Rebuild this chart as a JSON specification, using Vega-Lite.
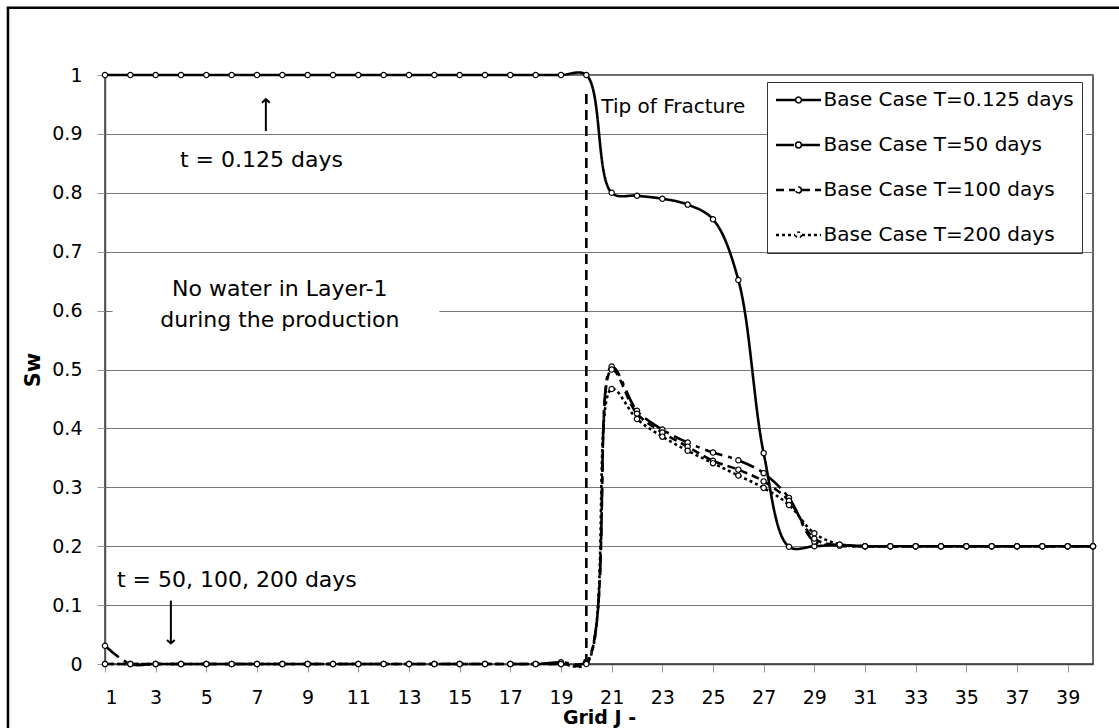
{
  "$schema": "https://vega.github.io/schema/vega-lite/v6.json",
  "width": 988,
  "height": 589,
  "autosize": {"type": "none"},
  "padding": {"left": 105, "top": 75, "right": 26, "bottom": 64},
  "background": "white",
  "config": {
    "font": "DejaVu Sans",
    "view": {"stroke": "#333333", "strokeWidth": 1.5}
  },
  "data": {
    "values": [
      {"x":1,"sw":1,"series":"Base Case T=0.125 days"},{"x":2,"sw":1,"series":"Base Case T=0.125 days"},{"x":3,"sw":1,"series":"Base Case T=0.125 days"},{"x":4,"sw":1,"series":"Base Case T=0.125 days"},{"x":5,"sw":1,"series":"Base Case T=0.125 days"},{"x":6,"sw":1,"series":"Base Case T=0.125 days"},{"x":7,"sw":1,"series":"Base Case T=0.125 days"},{"x":8,"sw":1,"series":"Base Case T=0.125 days"},{"x":9,"sw":1,"series":"Base Case T=0.125 days"},{"x":10,"sw":1,"series":"Base Case T=0.125 days"},{"x":11,"sw":1,"series":"Base Case T=0.125 days"},{"x":12,"sw":1,"series":"Base Case T=0.125 days"},{"x":13,"sw":1,"series":"Base Case T=0.125 days"},{"x":14,"sw":1,"series":"Base Case T=0.125 days"},{"x":15,"sw":1,"series":"Base Case T=0.125 days"},{"x":16,"sw":1,"series":"Base Case T=0.125 days"},{"x":17,"sw":1,"series":"Base Case T=0.125 days"},{"x":18,"sw":1,"series":"Base Case T=0.125 days"},{"x":19,"sw":1,"series":"Base Case T=0.125 days"},{"x":20,"sw":1,"series":"Base Case T=0.125 days"},{"x":21,"sw":0.8,"series":"Base Case T=0.125 days"},{"x":22,"sw":0.795,"series":"Base Case T=0.125 days"},{"x":23,"sw":0.79,"series":"Base Case T=0.125 days"},{"x":24,"sw":0.78,"series":"Base Case T=0.125 days"},{"x":25,"sw":0.755,"series":"Base Case T=0.125 days"},{"x":26,"sw":0.652,"series":"Base Case T=0.125 days"},{"x":27,"sw":0.358,"series":"Base Case T=0.125 days"},{"x":28,"sw":0.199,"series":"Base Case T=0.125 days"},{"x":29,"sw":0.2,"series":"Base Case T=0.125 days"},{"x":30,"sw":0.202,"series":"Base Case T=0.125 days"},{"x":31,"sw":0.2,"series":"Base Case T=0.125 days"},{"x":32,"sw":0.2,"series":"Base Case T=0.125 days"},{"x":33,"sw":0.2,"series":"Base Case T=0.125 days"},{"x":34,"sw":0.2,"series":"Base Case T=0.125 days"},{"x":35,"sw":0.2,"series":"Base Case T=0.125 days"},{"x":36,"sw":0.2,"series":"Base Case T=0.125 days"},{"x":37,"sw":0.2,"series":"Base Case T=0.125 days"},{"x":38,"sw":0.2,"series":"Base Case T=0.125 days"},{"x":39,"sw":0.2,"series":"Base Case T=0.125 days"},{"x":40,"sw":0.2,"series":"Base Case T=0.125 days"},

      {"x":1,"sw":0.031,"series":"Base Case T=50 days"},{"x":2,"sw":0,"series":"Base Case T=50 days"},{"x":3,"sw":0,"series":"Base Case T=50 days"},{"x":4,"sw":0,"series":"Base Case T=50 days"},{"x":5,"sw":0,"series":"Base Case T=50 days"},{"x":6,"sw":0,"series":"Base Case T=50 days"},{"x":7,"sw":0,"series":"Base Case T=50 days"},{"x":8,"sw":0,"series":"Base Case T=50 days"},{"x":9,"sw":0,"series":"Base Case T=50 days"},{"x":10,"sw":0,"series":"Base Case T=50 days"},{"x":11,"sw":0,"series":"Base Case T=50 days"},{"x":12,"sw":0,"series":"Base Case T=50 days"},{"x":13,"sw":0,"series":"Base Case T=50 days"},{"x":14,"sw":0,"series":"Base Case T=50 days"},{"x":15,"sw":0,"series":"Base Case T=50 days"},{"x":16,"sw":0,"series":"Base Case T=50 days"},{"x":17,"sw":0,"series":"Base Case T=50 days"},{"x":18,"sw":0,"series":"Base Case T=50 days"},{"x":19,"sw":0.003,"series":"Base Case T=50 days"},{"x":20,"sw":0.004,"series":"Base Case T=50 days"},{"x":21,"sw":0.505,"series":"Base Case T=50 days"},{"x":22,"sw":0.43,"series":"Base Case T=50 days"},{"x":23,"sw":0.398,"series":"Base Case T=50 days"},{"x":24,"sw":0.376,"series":"Base Case T=50 days"},{"x":25,"sw":0.359,"series":"Base Case T=50 days"},{"x":26,"sw":0.346,"series":"Base Case T=50 days"},{"x":27,"sw":0.324,"series":"Base Case T=50 days"},{"x":28,"sw":0.282,"series":"Base Case T=50 days"},{"x":29,"sw":0.208,"series":"Base Case T=50 days"},{"x":30,"sw":0.202,"series":"Base Case T=50 days"},{"x":31,"sw":0.2,"series":"Base Case T=50 days"},{"x":32,"sw":0.2,"series":"Base Case T=50 days"},{"x":33,"sw":0.2,"series":"Base Case T=50 days"},{"x":34,"sw":0.2,"series":"Base Case T=50 days"},{"x":35,"sw":0.2,"series":"Base Case T=50 days"},{"x":36,"sw":0.2,"series":"Base Case T=50 days"},{"x":37,"sw":0.2,"series":"Base Case T=50 days"},{"x":38,"sw":0.2,"series":"Base Case T=50 days"},{"x":39,"sw":0.2,"series":"Base Case T=50 days"},{"x":40,"sw":0.2,"series":"Base Case T=50 days"},

      {"x":1,"sw":0,"series":"Base Case T=100 days"},{"x":2,"sw":0,"series":"Base Case T=100 days"},{"x":3,"sw":0,"series":"Base Case T=100 days"},{"x":4,"sw":0,"series":"Base Case T=100 days"},{"x":5,"sw":0,"series":"Base Case T=100 days"},{"x":6,"sw":0,"series":"Base Case T=100 days"},{"x":7,"sw":0,"series":"Base Case T=100 days"},{"x":8,"sw":0,"series":"Base Case T=100 days"},{"x":9,"sw":0,"series":"Base Case T=100 days"},{"x":10,"sw":0,"series":"Base Case T=100 days"},{"x":11,"sw":0,"series":"Base Case T=100 days"},{"x":12,"sw":0,"series":"Base Case T=100 days"},{"x":13,"sw":0,"series":"Base Case T=100 days"},{"x":14,"sw":0,"series":"Base Case T=100 days"},{"x":15,"sw":0,"series":"Base Case T=100 days"},{"x":16,"sw":0,"series":"Base Case T=100 days"},{"x":17,"sw":0,"series":"Base Case T=100 days"},{"x":18,"sw":0,"series":"Base Case T=100 days"},{"x":19,"sw":0,"series":"Base Case T=100 days"},{"x":20,"sw":0.002,"series":"Base Case T=100 days"},{"x":21,"sw":0.5,"series":"Base Case T=100 days"},{"x":22,"sw":0.425,"series":"Base Case T=100 days"},{"x":23,"sw":0.393,"series":"Base Case T=100 days"},{"x":24,"sw":0.369,"series":"Base Case T=100 days"},{"x":25,"sw":0.345,"series":"Base Case T=100 days"},{"x":26,"sw":0.33,"series":"Base Case T=100 days"},{"x":27,"sw":0.31,"series":"Base Case T=100 days"},{"x":28,"sw":0.277,"series":"Base Case T=100 days"},{"x":29,"sw":0.213,"series":"Base Case T=100 days"},{"x":30,"sw":0.201,"series":"Base Case T=100 days"},{"x":31,"sw":0.2,"series":"Base Case T=100 days"},{"x":32,"sw":0.2,"series":"Base Case T=100 days"},{"x":33,"sw":0.2,"series":"Base Case T=100 days"},{"x":34,"sw":0.2,"series":"Base Case T=100 days"},{"x":35,"sw":0.2,"series":"Base Case T=100 days"},{"x":36,"sw":0.2,"series":"Base Case T=100 days"},{"x":37,"sw":0.2,"series":"Base Case T=100 days"},{"x":38,"sw":0.2,"series":"Base Case T=100 days"},{"x":39,"sw":0.2,"series":"Base Case T=100 days"},{"x":40,"sw":0.2,"series":"Base Case T=100 days"},

      {"x":1,"sw":0,"series":"Base Case T=200 days"},{"x":2,"sw":0,"series":"Base Case T=200 days"},{"x":3,"sw":0,"series":"Base Case T=200 days"},{"x":4,"sw":0,"series":"Base Case T=200 days"},{"x":5,"sw":0,"series":"Base Case T=200 days"},{"x":6,"sw":0,"series":"Base Case T=200 days"},{"x":7,"sw":0,"series":"Base Case T=200 days"},{"x":8,"sw":0,"series":"Base Case T=200 days"},{"x":9,"sw":0,"series":"Base Case T=200 days"},{"x":10,"sw":0,"series":"Base Case T=200 days"},{"x":11,"sw":0,"series":"Base Case T=200 days"},{"x":12,"sw":0,"series":"Base Case T=200 days"},{"x":13,"sw":0,"series":"Base Case T=200 days"},{"x":14,"sw":0,"series":"Base Case T=200 days"},{"x":15,"sw":0,"series":"Base Case T=200 days"},{"x":16,"sw":0,"series":"Base Case T=200 days"},{"x":17,"sw":0,"series":"Base Case T=200 days"},{"x":18,"sw":0,"series":"Base Case T=200 days"},{"x":19,"sw":0,"series":"Base Case T=200 days"},{"x":20,"sw":0,"series":"Base Case T=200 days"},{"x":21,"sw":0.467,"series":"Base Case T=200 days"},{"x":22,"sw":0.416,"series":"Base Case T=200 days"},{"x":23,"sw":0.386,"series":"Base Case T=200 days"},{"x":24,"sw":0.362,"series":"Base Case T=200 days"},{"x":25,"sw":0.341,"series":"Base Case T=200 days"},{"x":26,"sw":0.32,"series":"Base Case T=200 days"},{"x":27,"sw":0.299,"series":"Base Case T=200 days"},{"x":28,"sw":0.27,"series":"Base Case T=200 days"},{"x":29,"sw":0.222,"series":"Base Case T=200 days"},{"x":30,"sw":0.203,"series":"Base Case T=200 days"},{"x":31,"sw":0.2,"series":"Base Case T=200 days"},{"x":32,"sw":0.2,"series":"Base Case T=200 days"},{"x":33,"sw":0.2,"series":"Base Case T=200 days"},{"x":34,"sw":0.2,"series":"Base Case T=200 days"},{"x":35,"sw":0.2,"series":"Base Case T=200 days"},{"x":36,"sw":0.2,"series":"Base Case T=200 days"},{"x":37,"sw":0.2,"series":"Base Case T=200 days"},{"x":38,"sw":0.2,"series":"Base Case T=200 days"},{"x":39,"sw":0.2,"series":"Base Case T=200 days"},{"x":40,"sw":0.2,"series":"Base Case T=200 days"}
    ]
  },
  "encoding": {
    "x": {
      "field": "x", "type": "quantitative",
      "scale": {"domain": [1, 40], "nice": false, "zero": false},
      "axis": {
        "title": "Grid J -", "titleFont": "DejaVu Sans", "titleFontSize": 19, "titleFontWeight": "bold", "titleColor": "black", "titlePadding": 1,
        "values": [1,3,5,7,9,11,13,15,17,19,21,23,25,27,29,31,33,35,37,39],
        "format": "d", "grid": false,
        "labelFont": "DejaVu Sans", "labelFontSize": 19, "labelColor": "black", "labelPadding": 25, "labelBaseline": "middle",
        "tickSize": 8, "tickColor": "#999999", "domainColor": "#444444", "domainWidth": 1.5
      }
    },
    "y": {
      "field": "sw", "type": "quantitative",
      "scale": {"domain": [0, 1], "nice": false},
      "axis": {
        "title": "Sw", "titleFont": "DejaVu Sans", "titleFontSize": 21, "titleFontWeight": "bold", "titleColor": "black", "titlePadding": 8,
        "values": [0,0.1,0.2,0.3,0.4,0.5,0.6,0.7,0.8,0.9,1],
        "format": "~g", "grid": true, "gridColor": "#777777", "gridWidth": 1,
        "labelFont": "DejaVu Sans", "labelFontSize": 19, "labelColor": "black", "labelPadding": 15,
        "tickSize": 8, "tickColor": "#999999", "domainColor": "#555555", "domainWidth": 1.5
      }
    }
  },
  "layer": [
    {
      "transform": [{"filter": "datum.x == 1 && datum.sw == 1"}],
      "mark": {"type": "rect", "fill": "white", "stroke": null},
      "encoding": {
        "x": {"datum": 1.3}, "x2": {"datum": 14.2},
        "y": {"datum": 0.54}, "y2": {"datum": 0.67}
      }
    },
    {
      "transform": [{"filter": "datum.x == 1 && datum.sw == 1"}],
      "mark": {"type": "rect", "fill": "white", "stroke": null},
      "encoding": {
        "x": {"datum": 27.13}, "x2": {"datum": 39.7},
        "y": {"datum": 0.702}, "y2": {"datum": 0.9881}
      }
    },
    {
      "transform": [{"filter": "datum.x == 1 && datum.sw == 1"}],
      "mark": {"type": "rule", "color": "black", "strokeWidth": 2.5, "clip": false},
      "encoding": {"x": {"datum": -2.83}, "y": {"datum": 1.114}, "y2": {"datum": -0.15}}
    },
    {
      "transform": [{"filter": "datum.x == 1 && datum.sw == 1"}],
      "mark": {"type": "rule", "color": "black", "strokeWidth": 2.5, "clip": false},
      "encoding": {"y": {"datum": 1.114}, "x": {"datum": -2.88}, "x2": {"datum": 45}}
    },
    {
      "transform": [{"filter": "datum.x == 1 && datum.sw == 1"}],
      "mark": {"type": "rule", "color": "black", "strokeWidth": 2.6, "strokeDash": [10, 6]},
      "encoding": {"x": {"datum": 20}, "y": {"datum": 0}, "y2": {"datum": 0.97}}
    },
    {
      "mark": {"type": "line", "color": "black", "strokeWidth": 2.6, "interpolate": "catmull-rom"},
      "encoding": {
        "strokeDash": {
          "field": "series", "type": "nominal",
          "scale": {
            "domain": ["Base Case T=0.125 days", "Base Case T=50 days", "Base Case T=100 days", "Base Case T=200 days"],
            "range": [[1, 0], [18, 6, 4, 6], [8, 5], [3, 3]]
          },
          "legend": {
            "orient": "none", "legendX": 662, "legendY": 7, "title": null,
            "symbolType": "M-8.5,-0.15L-1.3,-0.15M-8.5,0.15L-1.3,0.15M1.3,-0.15L8.5,-0.15M1.3,0.15L8.5,0.15M1.1,0A1.1,1.1,0,1,1,-1.1,0A1.1,1.1,0,1,1,1.1,0",
            "symbolSize": 28, "symbolStrokeWidth": 1.5, "symbolStrokeColor": "black", "symbolFillColor": "white",
            "symbolOffset": 13.5,
            "labelFont": "DejaVu Sans", "labelFontSize": 20, "labelColor": "black", "labelOffset": 15, "labelLimit": 400,
            "rowPadding": 25, "padding": 8, "fillColor": null, "strokeColor": "#333333"
          }
        }
      }
    },
    {
      "mark": {"type": "point", "shape": "circle", "filled": true, "fill": "white", "stroke": "black", "strokeWidth": 1.2, "size": 28, "opacity": 1}
    },
    {
      "transform": [{"filter": "datum.x == 1 && datum.sw == 1"}],
      "mark": {"type": "text", "text": "t = 0.125 days", "font": "DejaVu Sans", "fontSize": 22, "align": "left", "baseline": "middle", "fill": "black"},
      "encoding": {"x": {"datum": 3.96}, "y": {"datum": 0.856}}
    },
    {
      "transform": [{"filter": "datum.x == 1 && datum.sw == 1"}],
      "mark": {"type": "text", "text": "t = 50, 100, 200 days", "font": "DejaVu Sans", "fontSize": 22, "align": "left", "baseline": "middle", "fill": "black"},
      "encoding": {"x": {"datum": 1.47}, "y": {"datum": 0.143}}
    },
    {
      "transform": [{"filter": "datum.x == 1 && datum.sw == 1"}],
      "mark": {"type": "text", "text": "No water in Layer-1", "font": "DejaVu Sans", "fontSize": 22, "align": "center", "baseline": "alphabetic", "fill": "black"},
      "encoding": {"x": {"datum": 7.9}, "y": {"datum": 0.625}}
    },
    {
      "transform": [{"filter": "datum.x == 1 && datum.sw == 1"}],
      "mark": {"type": "text", "text": "during the production", "font": "DejaVu Sans", "fontSize": 22, "align": "center", "baseline": "alphabetic", "fill": "black"},
      "encoding": {"x": {"datum": 7.9}, "y": {"datum": 0.572}}
    },
    {
      "transform": [{"filter": "datum.x == 1 && datum.sw == 1"}],
      "mark": {"type": "text", "text": "Tip of Fracture", "font": "DejaVu Sans", "fontSize": 20, "align": "left", "baseline": "middle", "fill": "black"},
      "encoding": {"x": {"datum": 20.59}, "y": {"datum": 0.946}}
    },
    {
      "transform": [{"filter": "datum.x == 1 && datum.sw == 1"}],
      "mark": {"type": "rule", "color": "black", "strokeWidth": 2},
      "encoding": {"x": {"datum": 7.35}, "y": {"datum": 0.905}, "y2": {"datum": 0.958}}
    },
    {
      "transform": [{"filter": "datum.x == 1 && datum.sw == 1"}],
      "mark": {"type": "point", "shape": "M-1,0.9L0,0L1,0.9", "filled": false, "stroke": "black", "strokeWidth": 2, "size": 60, "opacity": 1},
      "encoding": {"x": {"datum": 7.35}, "y": {"datum": 0.959}}
    },
    {
      "transform": [{"filter": "datum.x == 1 && datum.sw == 1"}],
      "mark": {"type": "rule", "color": "black", "strokeWidth": 2},
      "encoding": {"x": {"datum": 3.6}, "y": {"datum": 0.1075}, "y2": {"datum": 0.036}}
    },
    {
      "transform": [{"filter": "datum.x == 1 && datum.sw == 1"}],
      "mark": {"type": "point", "shape": "M-1,-0.9L0,0L1,-0.9", "filled": false, "stroke": "black", "strokeWidth": 2, "size": 60, "opacity": 1},
      "encoding": {"x": {"datum": 3.6}, "y": {"datum": 0.035}}
    }
  ]
}
